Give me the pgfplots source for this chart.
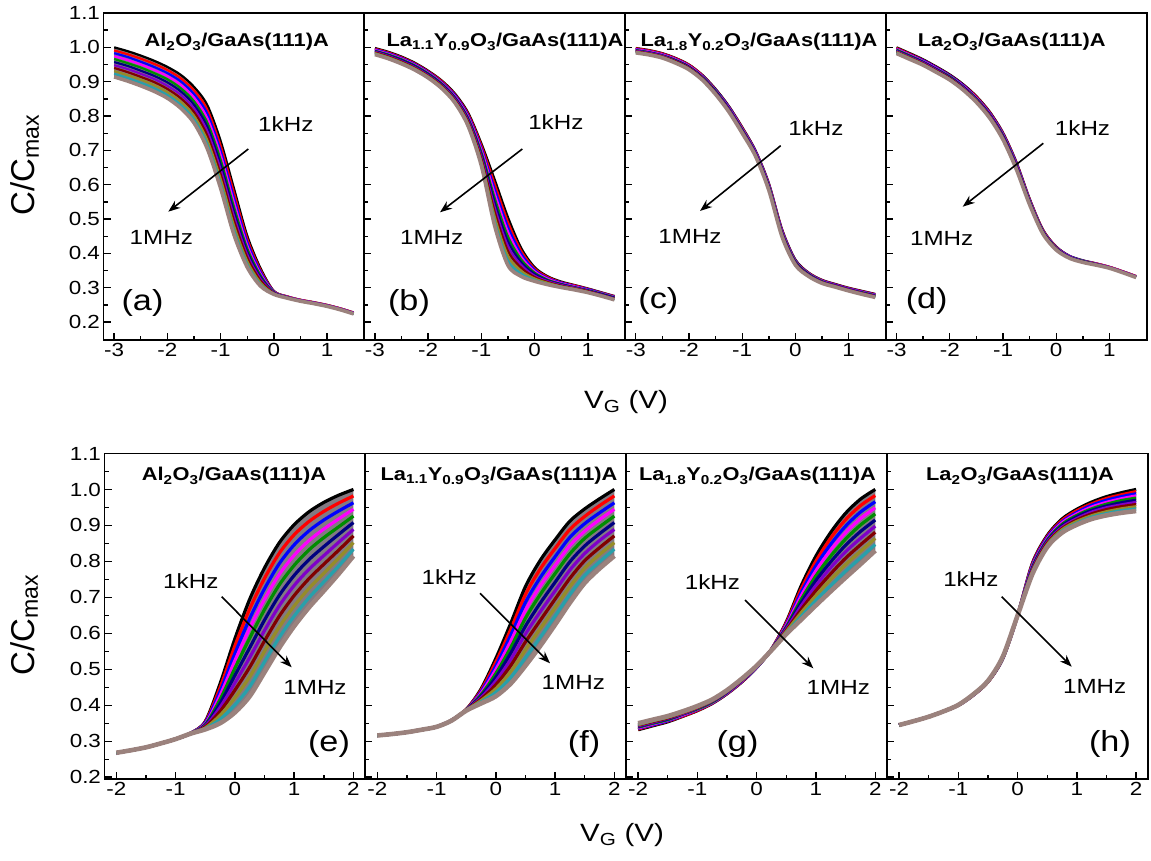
\documentclass[border=0pt]{standalone}
\usepackage{fontspec}
\setmainfont{Liberation Sans}[FakeStretch=1.18]
\newfontfamily\ylabfont{Liberation Sans}
\usepackage{pgfplots}
\pgfplotsset{compat=1.18}
\usepackage{pgfplotstable}
\usepgfplotslibrary{fillbetween}
\usetikzlibrary{arrows.meta}

\definecolor{k0}{RGB}{0,0,0}
\definecolor{k1}{RGB}{255,0,0}
\definecolor{k2}{RGB}{0,0,255}
\definecolor{k3}{RGB}{255,0,255}
\definecolor{k4}{RGB}{0,140,0}
\definecolor{k5}{RGB}{0,0,128}
\definecolor{k6}{RGB}{128,0,200}
\definecolor{k7}{RGB}{128,0,0}
\definecolor{k8}{RGB}{150,140,40}
\definecolor{k9}{RGB}{40,160,170}
\definecolor{k10}{RGB}{155,130,125}
\definecolor{bandfill}{RGB}{130,122,130}

\pgfplotstableread{
V c0 c1 c2 c3 c4 c5 c6 c7 c8 c9 c10
-3    1.000 0.991 0.983 0.974 0.966 0.957 0.948 0.940 0.931 0.923 0.914
-2.75 0.989 0.980 0.972 0.963 0.954 0.946 0.937 0.928 0.919 0.911 0.902
-2.5  0.976 0.967 0.958 0.950 0.941 0.932 0.923 0.914 0.906 0.897 0.888
-2.25 0.961 0.952 0.943 0.934 0.925 0.917 0.908 0.899 0.890 0.881 0.872
-2    0.943 0.934 0.925 0.916 0.907 0.898 0.888 0.879 0.870 0.861 0.852
-1.75 0.920 0.910 0.901 0.891 0.881 0.872 0.862 0.852 0.842 0.833 0.823
-1.5  0.885 0.875 0.864 0.854 0.843 0.833 0.822 0.812 0.801 0.791 0.780
-1.25 0.832 0.819 0.807 0.794 0.781 0.769 0.756 0.743 0.730 0.718 0.705
-1    0.728 0.714 0.700 0.687 0.673 0.659 0.645 0.631 0.618 0.604 0.590
-0.75 0.590 0.577 0.563 0.550 0.536 0.523 0.509 0.496 0.482 0.469 0.455
-0.5  0.452 0.443 0.434 0.424 0.415 0.406 0.397 0.388 0.378 0.369 0.360
-0.25 0.357 0.352 0.347 0.341 0.336 0.331 0.326 0.321 0.315 0.310 0.305
0     0.291 0.290 0.289 0.288 0.287 0.286 0.285 0.284 0.283 0.282 0.281
0.25  0.275 0.275 0.274 0.274 0.273 0.273 0.272 0.272 0.271 0.271 0.270
0.5   0.265 0.265 0.264 0.264 0.263 0.263 0.263 0.262 0.262 0.261 0.261
0.75  0.258 0.258 0.257 0.257 0.256 0.256 0.256 0.255 0.255 0.254 0.254
1     0.250 0.250 0.249 0.249 0.248 0.248 0.248 0.247 0.247 0.246 0.246
1.25  0.240 0.240 0.239 0.239 0.238 0.238 0.238 0.237 0.237 0.236 0.236
1.5   0.228 0.228 0.227 0.227 0.226 0.226 0.226 0.225 0.225 0.224 0.224
}\tabA

\pgfplotstableread{
V c0 c1 c2 c3 c4 c5 c6 c7 c8 c9 c10
-3    0.998 0.996 0.994 0.992 0.990 0.989 0.987 0.985 0.983 0.981 0.979
-2.75 0.987 0.985 0.983 0.981 0.979 0.977 0.975 0.973 0.971 0.969 0.967
-2.5  0.973 0.971 0.969 0.967 0.965 0.963 0.960 0.958 0.956 0.954 0.952
-2.25 0.955 0.953 0.951 0.949 0.947 0.945 0.942 0.940 0.938 0.936 0.934
-2    0.932 0.930 0.928 0.926 0.924 0.922 0.919 0.917 0.915 0.913 0.911
-1.75 0.904 0.902 0.899 0.897 0.895 0.893 0.890 0.888 0.886 0.883 0.881
-1.5  0.866 0.863 0.861 0.858 0.855 0.853 0.850 0.847 0.844 0.842 0.839
-1.25 0.810 0.806 0.802 0.798 0.794 0.791 0.787 0.783 0.779 0.775 0.771
-1    0.720 0.714 0.707 0.701 0.694 0.688 0.681 0.675 0.668 0.662 0.655
-0.75 0.615 0.602 0.588 0.575 0.561 0.548 0.534 0.521 0.507 0.494 0.480
-0.5  0.505 0.491 0.477 0.463 0.449 0.435 0.421 0.407 0.393 0.379 0.365
-0.25 0.415 0.407 0.399 0.390 0.382 0.374 0.366 0.358 0.349 0.341 0.333
0     0.360 0.356 0.352 0.348 0.344 0.340 0.335 0.331 0.327 0.323 0.319
0.25  0.333 0.331 0.328 0.326 0.323 0.321 0.319 0.316 0.314 0.311 0.309
0.5   0.318 0.316 0.315 0.313 0.311 0.310 0.308 0.306 0.304 0.303 0.301
0.75  0.308 0.307 0.305 0.304 0.302 0.301 0.300 0.298 0.297 0.295 0.294
1     0.298 0.297 0.296 0.294 0.293 0.292 0.291 0.290 0.288 0.287 0.286
1.25  0.287 0.286 0.285 0.284 0.283 0.282 0.280 0.279 0.278 0.277 0.276
1.5   0.276 0.275 0.274 0.273 0.272 0.271 0.269 0.268 0.267 0.266 0.265
}\tabB

\pgfplotstableread{
V c0 c1 c2 c3 c4 c5 c6 c7 c8 c9 c10
-3    0.998 0.997 0.995 0.994 0.992 0.991 0.990 0.988 0.987 0.985 0.984
-2.75 0.992 0.991 0.989 0.988 0.986 0.985 0.984 0.982 0.981 0.979 0.978
-2.5  0.983 0.982 0.980 0.979 0.977 0.976 0.975 0.973 0.972 0.970 0.969
-2.25 0.969 0.968 0.966 0.965 0.963 0.962 0.960 0.959 0.957 0.956 0.954
-2    0.950 0.949 0.947 0.946 0.944 0.943 0.941 0.940 0.938 0.937 0.935
-1.75 0.920 0.919 0.917 0.916 0.914 0.913 0.911 0.910 0.908 0.907 0.905
-1.5  0.879 0.877 0.876 0.874 0.873 0.871 0.869 0.868 0.866 0.865 0.863
-1.25 0.829 0.827 0.826 0.824 0.822 0.821 0.819 0.817 0.815 0.814 0.812
-1    0.768 0.766 0.764 0.763 0.761 0.759 0.757 0.755 0.754 0.752 0.750
-0.75 0.700 0.698 0.697 0.695 0.693 0.692 0.690 0.688 0.686 0.685 0.683
-0.5  0.605 0.603 0.601 0.599 0.597 0.595 0.592 0.590 0.588 0.586 0.584
-0.25 0.470 0.468 0.466 0.463 0.461 0.459 0.457 0.455 0.452 0.450 0.448
0     0.382 0.380 0.379 0.377 0.376 0.374 0.372 0.371 0.369 0.368 0.366
0.25  0.344 0.343 0.342 0.341 0.340 0.339 0.337 0.336 0.335 0.334 0.333
0.5   0.323 0.322 0.321 0.320 0.319 0.318 0.317 0.316 0.315 0.314 0.313
0.75  0.311 0.310 0.309 0.308 0.307 0.307 0.306 0.305 0.304 0.303 0.302
1     0.300 0.299 0.298 0.297 0.296 0.296 0.295 0.294 0.293 0.292 0.291
1.25  0.291 0.290 0.289 0.288 0.287 0.286 0.285 0.284 0.283 0.282 0.281
1.5   0.282 0.281 0.280 0.279 0.278 0.277 0.276 0.275 0.274 0.273 0.272
}\tabC

\pgfplotstableread{
V c0 c1 c2 c3 c4 c5 c6 c7 c8 c9 c10
-3    1.000 0.998 0.996 0.995 0.993 0.991 0.989 0.987 0.986 0.984 0.982
-2.75 0.983 0.981 0.979 0.978 0.976 0.974 0.972 0.970 0.969 0.967 0.965
-2.5  0.965 0.963 0.962 0.960 0.958 0.957 0.955 0.953 0.951 0.950 0.948
-2.25 0.944 0.942 0.941 0.939 0.937 0.936 0.934 0.932 0.930 0.929 0.927
-2    0.921 0.919 0.918 0.916 0.915 0.913 0.911 0.910 0.908 0.907 0.905
-1.75 0.893 0.891 0.890 0.888 0.886 0.885 0.883 0.881 0.879 0.878 0.876
-1.5  0.858 0.856 0.854 0.853 0.851 0.849 0.847 0.845 0.844 0.842 0.840
-1.25 0.813 0.811 0.809 0.807 0.805 0.804 0.802 0.800 0.798 0.796 0.794
-1    0.752 0.750 0.748 0.746 0.744 0.742 0.739 0.737 0.735 0.733 0.731
-0.75 0.667 0.665 0.663 0.660 0.658 0.656 0.654 0.652 0.649 0.647 0.645
-0.5  0.560 0.558 0.556 0.555 0.553 0.551 0.549 0.547 0.546 0.544 0.542
-0.25 0.470 0.469 0.467 0.466 0.465 0.464 0.462 0.461 0.460 0.458 0.457
0     0.420 0.419 0.418 0.417 0.416 0.415 0.414 0.413 0.412 0.411 0.410
0.25  0.393 0.392 0.392 0.391 0.390 0.390 0.389 0.388 0.387 0.387 0.386
0.5   0.380 0.379 0.379 0.378 0.378 0.377 0.376 0.376 0.375 0.375 0.374
0.75  0.371 0.371 0.370 0.370 0.369 0.369 0.368 0.368 0.367 0.367 0.366
1     0.361 0.361 0.360 0.360 0.359 0.359 0.359 0.358 0.358 0.357 0.357
1.25  0.348 0.348 0.347 0.347 0.346 0.346 0.346 0.345 0.345 0.344 0.344
1.5   0.334 0.334 0.333 0.333 0.332 0.332 0.332 0.331 0.331 0.330 0.330
}\tabD

\pgfplotstableread{
V c0 c1 c2 c3 c4 c5 c6 c7 c8 c9 c10
-2    0.268 0.268 0.268 0.268 0.268 0.268 0.268 0.268 0.268 0.268 0.268
-1.75 0.275 0.275 0.275 0.275 0.275 0.275 0.275 0.275 0.275 0.275 0.275
-1.5  0.283 0.283 0.283 0.283 0.283 0.283 0.283 0.283 0.283 0.283 0.283
-1.25 0.294 0.294 0.294 0.294 0.294 0.294 0.294 0.294 0.294 0.294 0.294
-1    0.306 0.306 0.306 0.306 0.306 0.306 0.306 0.306 0.306 0.306 0.306
-0.75 0.322 0.322 0.322 0.322 0.322 0.321 0.321 0.321 0.321 0.321 0.321
-0.5  0.355 0.353 0.351 0.348 0.346 0.344 0.342 0.340 0.337 0.335 0.333
-0.25 0.460 0.449 0.438 0.427 0.416 0.405 0.394 0.383 0.372 0.361 0.350
0     0.585 0.565 0.544 0.524 0.503 0.483 0.462 0.442 0.421 0.401 0.380
0.25  0.695 0.668 0.641 0.614 0.587 0.560 0.533 0.506 0.479 0.452 0.425
0.5   0.782 0.753 0.724 0.695 0.666 0.637 0.608 0.579 0.550 0.521 0.492
0.75  0.852 0.823 0.794 0.764 0.735 0.706 0.677 0.648 0.618 0.589 0.560
1     0.902 0.874 0.846 0.817 0.789 0.761 0.733 0.705 0.676 0.648 0.620
1.25  0.938 0.911 0.885 0.858 0.832 0.805 0.778 0.752 0.725 0.699 0.672
1.5   0.964 0.939 0.915 0.890 0.866 0.841 0.816 0.792 0.767 0.743 0.718
1.75  0.984 0.962 0.940 0.918 0.896 0.875 0.853 0.831 0.809 0.787 0.765
2     1.000 0.982 0.963 0.945 0.926 0.908 0.889 0.871 0.852 0.834 0.815
}\tabE

\pgfplotstableread{
V c0 c1 c2 c3 c4 c5 c6 c7 c8 c9 c10
-2    0.316 0.316 0.316 0.316 0.316 0.316 0.316 0.316 0.316 0.316 0.316
-1.75 0.320 0.320 0.320 0.320 0.320 0.320 0.320 0.320 0.320 0.320 0.320
-1.5  0.325 0.325 0.325 0.325 0.325 0.325 0.325 0.325 0.325 0.325 0.325
-1.25 0.332 0.332 0.332 0.332 0.332 0.332 0.332 0.332 0.332 0.332 0.332
-1    0.340 0.340 0.340 0.340 0.340 0.340 0.340 0.340 0.340 0.340 0.340
-0.75 0.358 0.358 0.358 0.358 0.358 0.357 0.357 0.357 0.357 0.357 0.357
-0.5  0.388 0.388 0.387 0.387 0.387 0.387 0.386 0.386 0.386 0.385 0.385
-0.25 0.445 0.441 0.437 0.433 0.429 0.425 0.421 0.417 0.413 0.409 0.405
0     0.530 0.520 0.509 0.499 0.488 0.478 0.467 0.457 0.446 0.436 0.425
0.25  0.627 0.610 0.594 0.577 0.560 0.544 0.527 0.510 0.493 0.477 0.460
0.5   0.730 0.708 0.686 0.664 0.642 0.620 0.598 0.576 0.554 0.532 0.510
0.75  0.803 0.779 0.755 0.732 0.708 0.684 0.660 0.636 0.613 0.589 0.565
1     0.860 0.836 0.813 0.789 0.766 0.742 0.718 0.695 0.671 0.648 0.624
1.25  0.912 0.889 0.867 0.844 0.821 0.799 0.776 0.753 0.730 0.708 0.685
1.5   0.946 0.925 0.905 0.884 0.864 0.843 0.822 0.802 0.781 0.761 0.740
1.75  0.974 0.955 0.935 0.916 0.896 0.877 0.858 0.838 0.819 0.799 0.780
2     1.000 0.982 0.963 0.945 0.926 0.908 0.889 0.871 0.852 0.834 0.815
}\tabF

\pgfplotstableread{
V c0 c1 c2 c3 c4 c5 c6 c7 c8 c9 c10
-2    0.332 0.334 0.336 0.337 0.339 0.341 0.343 0.345 0.346 0.348 0.350
-1.75 0.343 0.345 0.346 0.348 0.350 0.352 0.353 0.355 0.357 0.358 0.360
-1.5  0.354 0.356 0.357 0.359 0.360 0.362 0.364 0.365 0.367 0.368 0.370
-1.25 0.369 0.370 0.372 0.373 0.375 0.376 0.377 0.379 0.380 0.382 0.383
-1    0.385 0.386 0.388 0.389 0.390 0.392 0.393 0.394 0.395 0.397 0.398
-0.75 0.405 0.406 0.407 0.408 0.409 0.411 0.412 0.413 0.414 0.415 0.416
-0.5  0.432 0.433 0.434 0.435 0.436 0.437 0.438 0.439 0.440 0.441 0.442
-0.25 0.465 0.466 0.467 0.468 0.469 0.470 0.470 0.471 0.472 0.473 0.474
0     0.505 0.506 0.506 0.507 0.507 0.508 0.508 0.509 0.509 0.510 0.510
0.25  0.556 0.556 0.555 0.555 0.555 0.555 0.554 0.554 0.554 0.553 0.553
0.5   0.632 0.629 0.625 0.622 0.618 0.615 0.612 0.608 0.605 0.601 0.598
0.75  0.732 0.723 0.713 0.704 0.694 0.685 0.676 0.666 0.657 0.647 0.638
1     0.815 0.801 0.788 0.774 0.760 0.747 0.733 0.719 0.705 0.692 0.678
1.25  0.881 0.865 0.848 0.832 0.815 0.799 0.783 0.766 0.750 0.733 0.717
1.5   0.934 0.916 0.898 0.880 0.862 0.845 0.827 0.809 0.791 0.773 0.755
1.75  0.973 0.955 0.937 0.919 0.901 0.883 0.864 0.846 0.828 0.810 0.792
2     1.000 0.983 0.966 0.949 0.932 0.915 0.898 0.881 0.864 0.847 0.830
}\tabG

\pgfplotstableread{
V c0 c1 c2 c3 c4 c5 c6 c7 c8 c9 c10
-2    0.345 0.345 0.345 0.345 0.345 0.345 0.345 0.345 0.345 0.345 0.345
-1.75 0.356 0.356 0.356 0.356 0.356 0.356 0.356 0.356 0.356 0.356 0.356
-1.5  0.368 0.368 0.368 0.368 0.368 0.368 0.368 0.368 0.368 0.368 0.368
-1.25 0.383 0.383 0.383 0.383 0.383 0.383 0.383 0.383 0.383 0.383 0.383
-1    0.400 0.400 0.400 0.400 0.400 0.401 0.401 0.401 0.401 0.401 0.401
-0.75 0.428 0.428 0.428 0.429 0.429 0.429 0.429 0.429 0.430 0.430 0.430
-0.5  0.465 0.465 0.466 0.466 0.466 0.467 0.467 0.467 0.467 0.468 0.468
-0.25 0.530 0.531 0.531 0.532 0.532 0.533 0.533 0.534 0.534 0.535 0.535
0     0.650 0.650 0.650 0.650 0.650 0.650 0.650 0.650 0.650 0.650 0.650
0.25  0.795 0.792 0.789 0.786 0.783 0.780 0.777 0.774 0.771 0.768 0.765
0.5   0.872 0.869 0.866 0.862 0.859 0.856 0.853 0.850 0.846 0.843 0.840
0.75  0.918 0.914 0.910 0.907 0.903 0.899 0.895 0.891 0.888 0.884 0.880
1     0.945 0.941 0.936 0.932 0.928 0.924 0.919 0.915 0.911 0.906 0.902
1.25  0.965 0.960 0.956 0.951 0.946 0.942 0.937 0.932 0.927 0.923 0.918
1.5   0.980 0.975 0.970 0.964 0.959 0.954 0.949 0.944 0.938 0.933 0.928
1.75  0.991 0.985 0.980 0.974 0.969 0.963 0.957 0.952 0.946 0.941 0.935
2     1.000 0.994 0.988 0.982 0.976 0.970 0.964 0.958 0.952 0.946 0.940
}\tabH

\newcommand{\band}[3]{%
  \addplot[name path=T,draw=none,smooth,forget plot] table[x=V,y=c0]{#1};
  \addplot[name path=B,draw=none,smooth,forget plot] table[x=V,y=c10]{#1};
  \addplot[fill=bandfill,draw=none,forget plot] fill between[of=T and B];
  \addplot[k0,line width=#2,smooth] table[x=V,y=c0]{#1};
  \addplot[k1,line width=#2,smooth] table[x=V,y=c1]{#1};
  \addplot[k2,line width=#2,smooth] table[x=V,y=c2]{#1};
  \addplot[k3,line width=#2,smooth] table[x=V,y=c3]{#1};
  \addplot[k4,line width=#2,smooth] table[x=V,y=c4]{#1};
  \addplot[k5,line width=#2,smooth] table[x=V,y=c5]{#1};
  \addplot[k6,line width=#2,smooth] table[x=V,y=c6]{#1};
  \addplot[k7,line width=#2,smooth] table[x=V,y=c7]{#1};
  \addplot[k8,line width=#2,smooth] table[x=V,y=c8]{#1};
  \addplot[k9,line width=#2,smooth] table[x=V,y=c9]{#1};
  \addplot[k10,line width=#3,smooth] table[x=V,y=c10]{#1};
}

\pgfplotsset{
  panel/.style={scale only axis, width=260.8pt,
    axis line style={line width=1.8pt},
    tick align=inside, tick pos=left,
    major tick length=7pt, minor tick length=4pt,
    tick style={line width=1.4pt, black},
    ticklabel style={font=\fontsize{19}{21}\selectfont},
    clip=true},
  toprow/.style={panel, height=327pt, xmin=-3.2, xmax=1.7, ymin=0.148, ymax=1.1,
    xtick={-3,-2,-1,0,1}, xticklabels={-3,-2,-1,0,1}, minor x tick num=1,
    ytick={0.2,0.3,0.4,0.5,0.6,0.7,0.8,0.9,1.0,1.1}, minor y tick num=1},
  botrow/.style={panel, height=325.5pt, xmin=-2.2, xmax=2.2, ymin=0.195, ymax=1.1,
    xtick={-2,-1,0,1,2}, xticklabels={-2,-1,0,1,2}, minor x tick num=1,
    ytick={0.2,0.3,0.4,0.5,0.6,0.7,0.8,0.9,1.0,1.1}, minor y tick num=1},
  ylab/.style={yticklabels={0.2,0.3,0.4,0.5,0.6,0.7,0.8,0.9,1.0,1.1}},
  noylab/.style={yticklabels={}},
}

\newcommand{\titf}{\fontsize{18.5}{20}\selectfont\bfseries}
\newcommand{\khz}{\fontsize{20.5}{22}\selectfont}
\newcommand{\pl}{\fontsize{29}{30}\selectfont}

\begin{document}
\begin{tikzpicture}[x=1pt,y=1pt]
\path (0pt,0pt) rectangle (1151pt,861pt);

% ---------- top row ----------
\begin{axis}[toprow, ylab, at={(103.5pt,521pt)}, anchor=south west]
\band{\tabA}{2.2pt}{3.6pt}
\end{axis}
\begin{axis}[toprow, noylab, at={(364.3pt,521pt)}, anchor=south west]
\band{\tabB}{2.2pt}{3.6pt}
\end{axis}
\begin{axis}[toprow, noylab, at={(625.1pt,521pt)}, anchor=south west]
\band{\tabC}{2.2pt}{3.6pt}
\end{axis}
\begin{axis}[toprow, noylab, at={(885.9pt,521pt)}, anchor=south west]
\band{\tabD}{2.2pt}{3.6pt}
\end{axis}

% ---------- bottom row ----------
\begin{axis}[botrow, ylab, at={(104.5pt,82pt)}, anchor=south west]
\band{\tabE}{3.2pt}{4.6pt}
\end{axis}
\begin{axis}[botrow, noylab, at={(365.4pt,82pt)}, anchor=south west]
\band{\tabF}{3.2pt}{4.6pt}
\end{axis}
\begin{axis}[botrow, noylab, at={(626.3pt,82pt)}, anchor=south west]
\band{\tabG}{3.2pt}{4.6pt}
\end{axis}
\begin{axis}[botrow, noylab, at={(887.2pt,82pt)}, anchor=south west]
\band{\tabH}{3.2pt}{4.6pt}
\end{axis}

% titles
\node[anchor=base] at (236.7pt,814pt) {\titf Al\textsubscript{2}O\textsubscript{3}/GaAs(111)A};
\node[anchor=base] at (505pt,814pt) {\titf La\textsubscript{1.1}Y\textsubscript{0.9}O\textsubscript{3}/GaAs(111)A};
\node[anchor=base] at (759pt,814pt) {\titf La\textsubscript{1.8}Y\textsubscript{0.2}O\textsubscript{3}/GaAs(111)A};
\node[anchor=base] at (1011.7pt,814pt) {\titf La\textsubscript{2}O\textsubscript{3}/GaAs(111)A};
\node[anchor=base] at (234pt,380pt) {\titf Al\textsubscript{2}O\textsubscript{3}/GaAs(111)A};
\node[anchor=base] at (499pt,380pt) {\titf La\textsubscript{1.1}Y\textsubscript{0.9}O\textsubscript{3}/GaAs(111)A};
\node[anchor=base] at (757.5pt,380pt) {\titf La\textsubscript{1.8}Y\textsubscript{0.2}O\textsubscript{3}/GaAs(111)A};
\node[anchor=base] at (1020pt,380pt) {\titf La\textsubscript{2}O\textsubscript{3}/GaAs(111)A};

% frequency labels
\node[anchor=base] at (285.8pt,729.3pt) {\khz 1kHz};
\node[anchor=base] at (555.8pt,731pt) {\khz 1kHz};
\node[anchor=base] at (815.8pt,725.5pt) {\khz 1kHz};
\node[anchor=base] at (1082.5pt,725pt) {\khz 1kHz};
\node[anchor=base] at (161.3pt,616pt) {\khz 1MHz};
\node[anchor=base] at (431.7pt,616pt) {\khz 1MHz};
\node[anchor=base] at (690pt,617pt) {\khz 1MHz};
\node[anchor=base] at (941.7pt,615pt) {\khz 1MHz};
\node[anchor=base] at (190.8pt,272.7pt) {\khz 1kHz};
\node[anchor=base] at (449.2pt,276pt) {\khz 1kHz};
\node[anchor=base] at (712.5pt,271pt) {\khz 1kHz};
\node[anchor=base] at (970.8pt,274.3pt) {\khz 1kHz};
\node[anchor=base] at (315pt,166pt) {\khz 1MHz};
\node[anchor=base] at (573.3pt,171pt) {\khz 1MHz};
\node[anchor=base] at (838.3pt,166pt) {\khz 1MHz};
\node[anchor=base] at (1094.7pt,167.7pt) {\khz 1MHz};

% arrows
\begin{scope}[line width=1.6pt, -{Stealth[length=12pt,width=9pt]}]
\draw (248.3pt,712pt) -- (168.3pt,649.3pt);
\draw (522.3pt,712pt) -- (440pt,648.7pt);
\draw (780.7pt,715.3pt) -- (700pt,650pt);
\draw (1043.3pt,717.7pt) -- (962.7pt,654.3pt);
\draw (221.7pt,264.3pt) -- (291.7pt,193.7pt);
\draw (480pt,267.7pt) -- (550pt,197.7pt);
\draw (745pt,261pt) -- (813.3pt,192.7pt);
\draw (1001.7pt,264.3pt) -- (1071.7pt,194.3pt);
\end{scope}

% panel letters
\node at (142.5pt,558pt) {\pl (a)};
\node at (409pt,558pt) {\pl (b)};
\node at (658.3pt,560pt) {\pl (c)};
\node at (926.7pt,560pt) {\pl (d)};
\node at (329pt,117pt) {\pl (e)};
\node at (584pt,117pt) {\pl (f)};
\node at (737.5pt,117pt) {\pl (g)};
\node at (1110pt,117pt) {\pl (h)};

% axis labels
\node[rotate=90, anchor=base] at (35pt,696pt) {\ylabfont\fontsize{33}{35}\selectfont C/C\textsubscript{max}};
\node[rotate=90, anchor=base] at (34pt,236pt) {\ylabfont\fontsize{33}{35}\selectfont C/C\textsubscript{max}};
\node[anchor=base] at (626pt,452.7pt) {\fontsize{25}{27}\selectfont V\textsubscript{G} (V)};
\node[anchor=base] at (622pt,19.3pt) {\fontsize{25}{27}\selectfont V\textsubscript{G} (V)};

\pgfresetboundingbox
\path[use as bounding box] (0pt,0pt) rectangle (1151pt,861pt);
\end{tikzpicture}
\end{document}
